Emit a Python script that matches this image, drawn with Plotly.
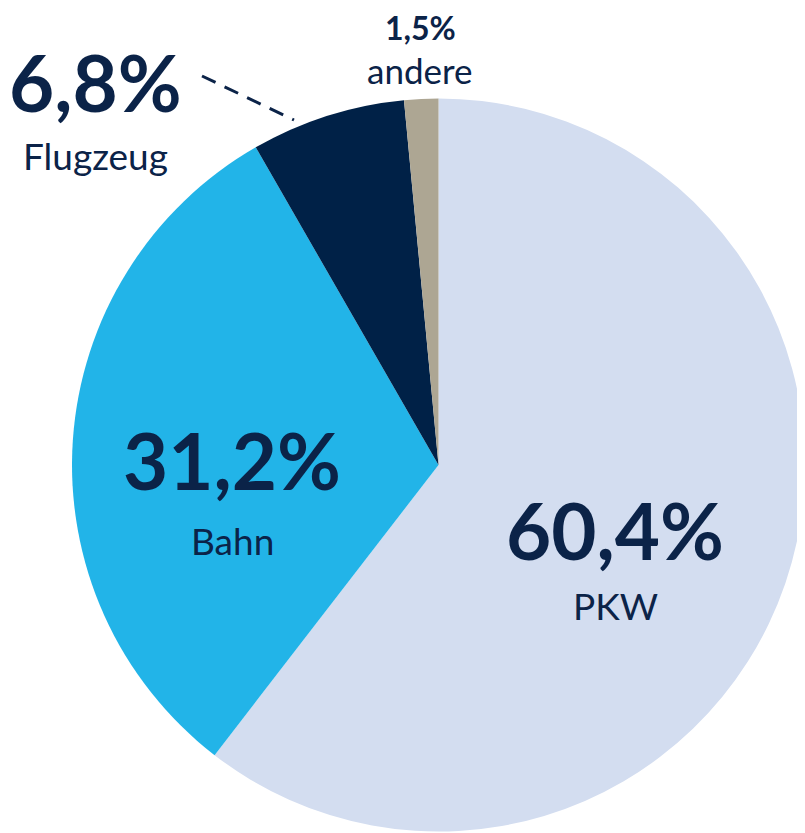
import plotly.graph_objects as go

labels = ['PKW', 'Bahn', 'Flugzeug', 'andere']
values = [60.4, 31.2, 6.8, 1.5]
pct_text = ['60,4%', '31,2%', '6,8%', '1,5%']
colors = ['#D3DDF0', '#22B4E8', '#002147', '#ADA693']

navy = '#0B2348'
font_name = 'Lato'
OFF = 8  # page body margin shifts the figure
W, H = 805 - OFF, 833 - OFF


def px(x):
    return min(max((x - OFF) / W, 0), 1)


def py(y):
    return min(max(1 - (y - OFF) / H, 0), 1)


fig = go.Figure(go.Pie(
    labels=labels, values=values,
    sort=False, direction='clockwise', rotation=0,
    marker=dict(colors=colors, line=dict(width=0)),
    textinfo='none', hoverinfo='label+percent',
    domain=dict(x=[px(72), px(808)], y=[py(833), py(97)]),
    showlegend=False,
))

# (x, y of percentage, y of label) in reference pixels
big = [(615, 530, 605), (232, 460, 540), (95, 82, 155)]
for (x, y_pct, y_lab), pct, lab in zip(big, pct_text[:3], labels[:3]):
    fig.add_annotation(x=px(x), y=py(y_pct), xref='paper', yref='paper',
                       xanchor='center', yanchor='middle',
                       text='<b>' + pct + '</b>', showarrow=False,
                       font=dict(family=font_name, size=78, color=navy))
    fig.add_annotation(x=px(x), y=py(y_lab), xref='paper', yref='paper',
                       xanchor='center', yanchor='middle',
                       text=lab, showarrow=False,
                       font=dict(family=font_name, size=37, color=navy))

fig.add_annotation(x=px(420), y=py(27), xref='paper', yref='paper',
                   xanchor='center', yanchor='middle',
                   text='<b>' + pct_text[3] + '</b>', showarrow=False,
                   font=dict(family=font_name, size=32, color=navy))
fig.add_annotation(x=px(420), y=py(70), xref='paper', yref='paper',
                   xanchor='center', yanchor='middle',
                   text=labels[3], showarrow=False,
                   font=dict(family=font_name, size=35, color=navy))

# dashed leader line for Flugzeug
fig.add_shape(type='line', xref='paper', yref='paper',
              x0=px(202), y0=py(76), x1=px(294), y1=py(120),
              line=dict(color=navy, width=3, dash='15px,10px'))

fig.update_layout(
    width=W, height=H,
    margin=dict(l=0, r=0, t=0, b=0),
    paper_bgcolor='white', plot_bgcolor='white',
)

fig.write_html('out.html')
